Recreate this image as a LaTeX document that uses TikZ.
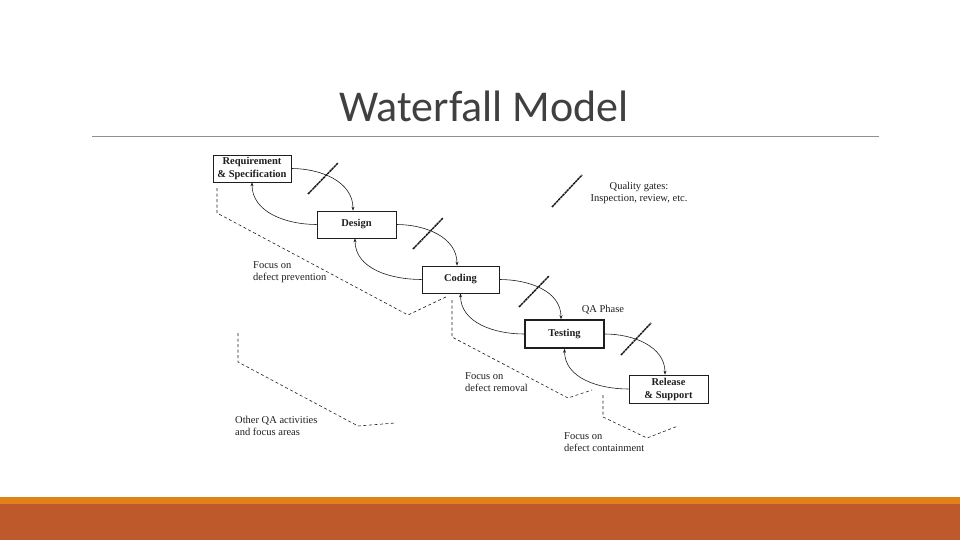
\documentclass[tikz,border=0pt]{standalone}
\usepackage{fontspec}
\setmainfont{Liberation Serif}
\newfontfamily\titlefont{Carlito}
\usetikzlibrary{arrows.meta, positioning}
\definecolor{barorange}{RGB}{224,129,25}
\definecolor{barrust}{RGB}{190,89,43}
\definecolor{titlegray}{RGB}{64,64,64}
\definecolor{rulegray}{RGB}{145,145,145}
\definecolor{inkgray}{RGB}{30,30,30}

\begin{document}
\begin{tikzpicture}[x=1pt,y=1pt,yscale=-1,xscale=1,
  phase/.style={draw=inkgray,line width=0.7pt,minimum width=79pt,minimum height=27pt,inner sep=1pt,font=\bfseries\fontsize{10.5}{13}\selectfont,text=inkgray,align=center},
  flow/.style={draw=inkgray,line width=0.6pt,-{Stealth[length=4pt,width=3pt]}},
  gate/.style={draw=inkgray,line width=1.5pt,dash pattern=on 2.5pt off 0.6pt},
  focus/.style={draw=inkgray,line width=0.6pt,dash pattern=on 3pt off 2.5pt},
  note/.style={anchor=west,inner sep=0pt,align=left,font=\fontsize{10.5}{12}\selectfont,text=inkgray}]
\path[use as bounding box] (0,0) rectangle (960,540);

% Slide bars
\fill[barorange] (0,497) rectangle (960,504);
\fill[barrust] (0,504) rectangle (960,540);

% Title
\node (title) [anchor=base,inner sep=0pt,text=titlegray,font=\titlefont\fontsize{44}{50}\selectfont] at (484,122) {Waterfall Model};
\draw[rulegray,line width=0.8pt] (92,136) -- (879,136);

% Phases
\node (req) [phase,minimum width=78pt] at (252,168.5) {Requirement\\\& Specification};
\node (design) [phase] at (356.5,224.5) {Design};
\node (coding) [phase,minimum width=77pt] at (460.5,279.5) {Coding};
\node (testing) [phase,line width=1.5pt,minimum height=28pt] at (564.5,334) {Testing};
\node (release) [phase,minimum height=28pt] at (668.5,389) {Release\\\& Support};

% Forward flow (y axis flipped: -90 is up on the page)
\draw[flow] (req.east) to[out=0,in=-90] ([xshift=-3.5pt]design.north);
\draw[flow] (design.east) to[out=0,in=-90] ([xshift=-3.5pt]coding.north);
\draw[flow] (coding.east) to[out=0,in=-90] ([xshift=-3.5pt]testing.north);
\draw[flow] (testing.east) to[out=0,in=-90] ([xshift=-3.5pt]release.north);

% Feedback flow
\draw[flow] (design.west) to[out=180,in=90] (req.south);
\draw[flow] (coding.west) to[out=180,in=90] ([xshift=-1.5pt]design.south);
\draw[flow] (testing.west) to[out=180,in=90] (coding.south);
\draw[flow] (release.west) to[out=180,in=90] (testing.south);

% Quality gates
\draw[gate] (308,194) -- (338,163);
\draw[gate] (413,249) -- (443,218);
\draw[gate] (519,307) -- (549,276);
\draw[gate] (621,355) -- (651,323);
\draw[gate] (552,207) -- (582,175);
\node (gates) [align=center,inner sep=0pt,font=\fontsize{10.5}{12}\selectfont,text=inkgray] at (639,193) {Quality gates:\\Inspection, review, etc.};
\node (qaphase) [inner sep=0pt,font=\fontsize{10.5}{12}\selectfont,text=inkgray] at (603,310) {QA Phase};

% Focus areas
\draw[focus] (217,188) -- (217,213) -- (408,315) -- (448,296);
\draw[focus] (452,300) -- (452,337) -- (568,398) -- (592,390);
\draw[focus] (603,395) -- (603,417) -- (647,438) -- (678,426);
\draw[focus] (238,333) -- (238,362) -- (358,426) -- (395,423);
\node (prevention) [note] at (253,272.5) {Focus on\\defect prevention};
\node (removal) [note] at (465,382) {Focus on\\defect removal};
\node (containment) [note] at (564,442.5) {Focus on\\defect containment};
\node (otherqa) [note] at (235,426) {Other QA activities\\and focus areas};

\end{tikzpicture}
\end{document}
